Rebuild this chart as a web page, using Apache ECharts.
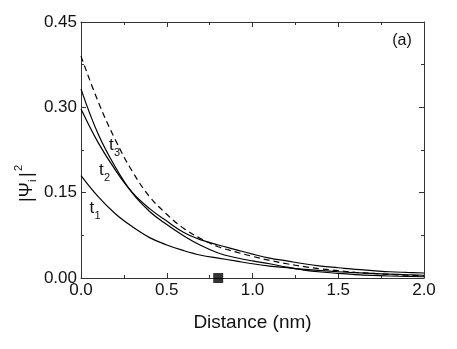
<!DOCTYPE html>
<html>
<head>
<meta charset="utf-8">
<script src="https://cdn.jsdelivr.net/npm/echarts@6/dist/echarts.min.js"></script>
<style>
html, body { margin: 0; padding: 0; background: #fff; }
#chart { width: 457px; height: 349px; }
</style>
</head>
<body>
<div id="chart"></div>
<script>
// distance in nm
const distance = [0, 0.1, 0.2, 0.3, 0.4, 0.5, 0.6, 0.7, 0.8, 0.9, 1.0,
  1.1, 1.2, 1.3, 1.4, 1.5, 1.6, 1.7, 1.8, 1.9, 2.0];
const t1 = [0.180, 0.143, 0.113, 0.090, 0.071, 0.058, 0.048, 0.040, 0.035, 0.030, 0.025,
  0.021, 0.018, 0.015, 0.013, 0.011, 0.0093, 0.008, 0.0068, 0.0057, 0.0048];
const t2 = [0.297, 0.238, 0.190, 0.150, 0.122, 0.100, 0.080, 0.067, 0.058, 0.050, 0.042,
  0.035, 0.030, 0.025, 0.021, 0.018, 0.015, 0.013, 0.011, 0.0098, 0.0088];
const t3 = [0.332, 0.253, 0.195, 0.149, 0.117, 0.094, 0.074, 0.057, 0.044, 0.036, 0.030,
  0.025, 0.019, 0.014, 0.0105, 0.008, 0.006, 0.0045, 0.0035, 0.0028, 0.0022];
const dashed = [0.390, 0.310, 0.243, 0.187, 0.143, 0.112, 0.087, 0.069, 0.055, 0.046, 0.038,
  0.031, 0.025, 0.020, 0.016, 0.013, 0.010, 0.008, 0.0062, 0.0048, 0.0037];
// black square on the axis
const marker = [[0.8, 0]];
// curve labels: name, subscript, position in data coords
const curveLabels = [
  ['t', '1', 0.050, 0.123],
  ['t', '2', 0.105, 0.190],
  ['t', '3', 0.163, 0.234]
];
const xRange = [0, 2, 0.5];
const yRange = [0, 0.45, 0.15];

const chart = echarts.init(document.getElementById('chart'));
const font = 'Liberation Sans, Arial, sans-serif';
const axisColor = '#333';

function pairs(ys) {
  return distance.map((x, i) => [x, ys[i]]);
}

function axisCommon(showLabel, digits) {
  return {
    type: 'value',
    axisLine: { show: true, onZero: false, lineStyle: { color: axisColor, width: 1 } },
    axisTick: { show: true, inside: true, length: 5, lineStyle: { color: axisColor } },
    minorTick: { show: true, splitNumber: 2, length: 3, lineStyle: { color: axisColor } },
    splitLine: { show: false },
    minorSplitLine: { show: false },
    axisLabel: {
      show: showLabel,
      fontFamily: font,
      fontSize: 17,
      color: '#111',
      margin: 4,
      formatter: v => v.toFixed(digits)
    }
  };
}

const lineBase = {
  type: 'line',
  symbol: 'none',
  smooth: 0.4,
  silent: true
};

const option = {
  animation: false,
  grid: { left: 81, right: 33, top: 22, bottom: 71 },
  xAxis: [
    Object.assign(axisCommon(true, 1), {
      min: xRange[0], max: xRange[1], interval: xRange[2], position: 'bottom',
      name: 'Distance (nm)', nameLocation: 'middle', nameGap: 35,
      nameTextStyle: { fontFamily: font, fontSize: 19, color: '#111' }
    }),
    Object.assign(axisCommon(false, 1), {
      min: xRange[0], max: xRange[1], interval: xRange[2], position: 'top'
    })
  ],
  yAxis: [
    Object.assign(axisCommon(true, 2), {
      min: yRange[0], max: yRange[1], interval: yRange[2], position: 'left'
    }),
    Object.assign(axisCommon(false, 2), {
      min: yRange[0], max: yRange[1], interval: yRange[2], position: 'right'
    })
  ],
  series: [
    Object.assign({}, lineBase, { name: 't1', data: pairs(t1), lineStyle: { color: '#000', width: 1.2 } }),
    Object.assign({}, lineBase, { name: 't2', data: pairs(t2), lineStyle: { color: '#000', width: 1.2 } }),
    Object.assign({}, lineBase, { name: 't3', data: pairs(t3), lineStyle: { color: '#000', width: 1.2 } }),
    Object.assign({}, lineBase, { name: 'dashed', data: pairs(dashed),
      lineStyle: { color: '#000', width: 1.2, type: [6, 4] } }),
    {
      type: 'scatter', data: marker, symbol: 'rect', symbolSize: 10,
      itemStyle: { color: '#000' }, clip: false, z: 5, silent: true
    }
  ]
};
chart.setOption(option);

// annotations positioned from data coordinates
const graphics = [];
curveLabels.forEach(([txt, sub, x, y]) => {
  const p = chart.convertToPixel({ xAxisIndex: 0, yAxisIndex: 0 }, [x, y]);
  graphics.push({
    type: 'text', x: p[0], y: p[1],
    style: { text: txt, fontFamily: font, fontSize: 17, fill: '#111', align: 'left', verticalAlign: 'middle' }
  });
  graphics.push({
    type: 'text', x: p[0] + 5, y: p[1] + 8,
    style: { text: sub, fontFamily: font, fontSize: 11, fill: '#111', align: 'left', verticalAlign: 'middle' }
  });
});

// y axis title |Psi_i|^2, rotated
graphics.push({
  type: 'group', x: 27, y: 176, rotation: Math.PI / 2,
  children: [
    { type: 'text', x: -26, y: 0, style: { text: '|Ψ', fontFamily: font, fontSize: 18, fill: '#111', verticalAlign: 'middle' } },
    { type: 'text', x: -6, y: 6, style: { text: 'i', fontFamily: font, fontSize: 11, fill: '#111', verticalAlign: 'middle' } },
    { type: 'text', x: -1, y: 0, style: { text: '|', fontFamily: font, fontSize: 18, fill: '#111', verticalAlign: 'middle' } },
    { type: 'text', x: 5, y: -8, style: { text: '2', fontFamily: font, fontSize: 11, fill: '#111', verticalAlign: 'middle' } }
  ]
});

// panel tag
graphics.push({
  type: 'text', x: 402, y: 41,
  style: { text: '(a)', fontFamily: font, fontSize: 16, fill: '#111', align: 'center', verticalAlign: 'middle' }
});

chart.setOption({ graphic: graphics });
</script>
</body>
</html>
